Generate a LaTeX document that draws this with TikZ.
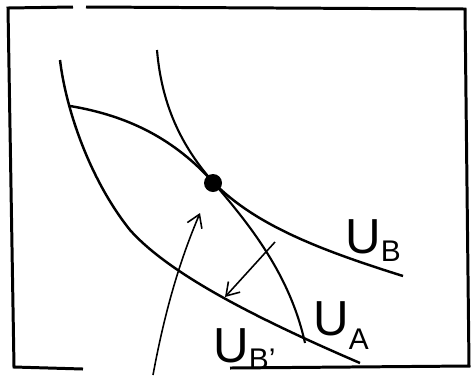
\documentclass[tikz,border=0pt]{standalone}
\usepackage{fontspec}
\setmainfont{Liberation Sans}
\usetikzlibrary{arrows.meta}
\newcommand{\ulbl}[2]{{\fontsize{28}{28}\selectfont U}\raisebox{-#2}{\fontsize{17}{17}\selectfont #1}}
\begin{document}
\begin{tikzpicture}[x=0.02cm,y=-0.02cm,>={Straight Barb[length=7pt,width=9pt]},
		frame/.style={line width=1.7pt},curve/.style={line width=1.4pt},arr/.style={->,line width=0.9pt},
		lbl/.style={anchor=base west,inner sep=0pt}]
		\useasboundingbox (0,0) rectangle (472,376);
		% frame with gaps
		\draw[frame] (73,7)--(8,8)--(14,367)--(83,369);\draw[frame] (86,7)--(465,9)--(469,366)--(230,368);
		% indifference curves
		\draw[curve] (60,60)..controls(66,110)and(90,180)..(130,230)..controls(170,275)and(260,320)..(360,363);
		\draw[curve] (70,106)..controls(130,116)and(175,140)..(213,182)..controls(255,225)and(320,250)..(403,276);
		\draw[curve,line width=1.2pt] (157,50)..controls(162,110)and(185,150)..(213,182)..controls(250,225)and(290,275)..(305,343);
		\node[circle,fill,inner sep=0pt,minimum size=0.36cm] (pt) at (213,183) {};
		% arrows
		\coordinate (s1) at (153,375);\coordinate (e1) at (200,213);\coordinate (s2) at (275,242);\coordinate (e2) at (225,297);
		\draw[arr] (s1)..controls(165,310)and(180,260)..(e1);\draw[arr] (s2)--(e2);
		\node[lbl] (ub) at (345,253) {\ulbl{B}{5pt}};\node[lbl] (ua) at (313,335) {\ulbl{A}{8pt}};\node[lbl] (ubp) at (213,362) {\ulbl{B'}{4pt}};
	\end{tikzpicture}
\end{document}
